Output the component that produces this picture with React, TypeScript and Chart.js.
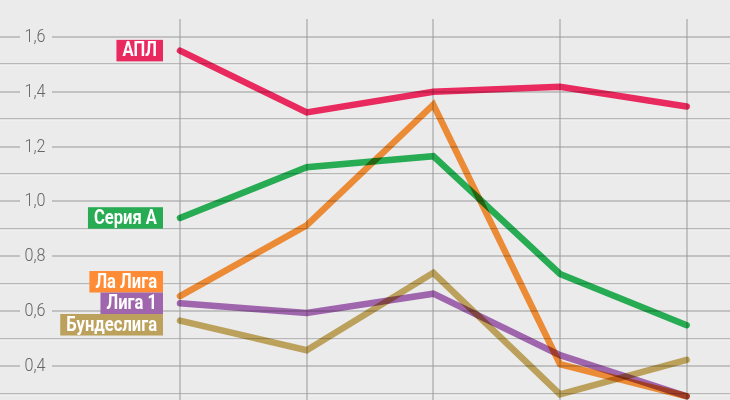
import React, { useEffect, useRef } from "react";
import { Chart, registerables } from "chart.js";

Chart.register(...registerables);

const categories = ["1", "2", "3", "4", "5"];
const leagueNames = ["АПЛ", "Серия А", "Ла Лига", "Лига 1", "Бундеслига"];
const aplValues = [1.55, 1.325, 1.4, 1.418, 1.346];
const serieAValues = [0.94, 1.125, 1.165, 0.736, 0.549];
const laLigaValues = [0.655, 0.913, 1.353, 0.407, 0.29];
const ligue1Values = [0.629, 0.594, 0.664, 0.44, 0.29];
const bundesligaValues = [0.566, 0.458, 0.74, 0.297, 0.423];
const leagueColors = ["#ea2a5e", "#27ab53", "#ff8b35", "#a066ad", "#bba15c"];
const lineColors = ["#fd2d66", "#2aba5a", "#ff973a", "#ae6fbc", "#cbaf64"];
const tickValues = [0.4, 0.6, 0.8, 1.0, 1.2, 1.4, 1.6];
const tickLabels = ["0,4", "0,6", "0,8", "1,0", "1,2", "1,4", "1,6"];
const minorValues = [0.3, 0.5, 0.7, 0.9, 1.1, 1.3, 1.5];

const BG = "#ebebeb";
const SQUEEZE = 0.85;

const gridPlugin = {
  id: "bgGrid",
  beforeDraw(chart: any) {
    const { ctx, chartArea, scales } = chart;
    const xs = scales.x;
    const ys = scales.y;
    ctx.save();
    ctx.fillStyle = BG;
    ctx.fillRect(0, 0, chart.width, chart.height);
    minorValues.forEach((v) => {
      const y = Math.round(ys.getPixelForValue(v));
      ctx.fillStyle = "#b8b8b8";
      ctx.fillRect(chartArea.left, y - 1, chartArea.right - chartArea.left, 1.5);
      ctx.fillStyle = "#f6f6f6";
      ctx.fillRect(chartArea.left, y + 0.5, chartArea.right - chartArea.left, 1);
    });
    ctx.fillStyle = "#9a9a9a";
    categories.forEach((_, i) => {
      const x = Math.round(xs.getPixelForValue(i));
      ctx.fillRect(x - 0.5, chartArea.top + 19, 1, chartArea.bottom - chartArea.top - 19);
    });
    tickValues.forEach((v, i) => {
      const y = Math.round(ys.getPixelForValue(v));
      ctx.fillStyle = "#9a9a9a";
      ctx.fillRect(chartArea.left, y - 0.5, 20, 1);
      ctx.fillRect(chartArea.left + 52, y - 0.5, chartArea.right - chartArea.left - 52, 1);
      ctx.save();
      ctx.translate(chartArea.left + 35, y + 0.5);
      ctx.scale(SQUEEZE, 1);
      ctx.font = "300 19px Roboto, sans-serif";
      ctx.textAlign = "center";
      ctx.textBaseline = "middle";
      ctx.fillStyle = "#666666";
      ctx.fillText(tickLabels[i], 0, 0);
      ctx.restore();
    });
    ctx.restore();
  },
  beforeDatasetsDraw(chart: any) {
    chart.ctx.save();
    chart.ctx.globalCompositeOperation = "multiply";
  },
  afterDatasetsDraw(chart: any) {
    const { ctx, scales } = chart;
    ctx.restore();
    const xs = scales.x;
    const ys = scales.y;
    const h = 21.5;
    const items = chart.data.datasets.map((ds: any, i: number) => ({
      text: ds.label,
      color: leagueColors[i],
      y: ys.getPixelForValue(ds.data[0].y),
    }));
    items.sort((a: any, b: any) => a.y - b.y);
    const groups: any[][] = [];
    items.forEach((it: any) => {
      const g = groups[groups.length - 1];
      if (g && it.y - g[g.length - 1].y < h) g.push(it);
      else groups.push([it]);
    });
    groups.forEach((g) => {
      const n = g.length;
      const mid = (n - 1) / 2;
      const center =
        n % 2 === 1 ? g[mid].y : (g[Math.floor(mid)].y + g[Math.ceil(mid)].y) / 2;
      g.forEach((it, k) => {
        it.py = center + (k - mid) * h;
      });
    });
    const right = xs.getPixelForValue(0) - 17;
    ctx.save();
    ctx.font = "bold 19.5px Roboto, sans-serif";
    items.forEach((it: any) => {
      const tw = ctx.measureText(it.text).width * SQUEEZE;
      const w = tw + 12;
      ctx.fillStyle = it.color;
      ctx.fillRect(right - w, it.py - h / 2, w, h);
      ctx.save();
      ctx.translate(right - 6, it.py + 1);
      ctx.scale(SQUEEZE, 1);
      ctx.textAlign = "right";
      ctx.textBaseline = "middle";
      ctx.fillStyle = "#ffffff";
      ctx.fillText(it.text, 0, 0);
      ctx.restore();
    });
    ctx.restore();
  },
};

export default function App() {
  const ref = useRef<HTMLCanvasElement | null>(null);
  useEffect(() => {
    document.body.style.margin = "0";
    const seriesList = [aplValues, serieAValues, laLigaValues, ligue1Values, bundesligaValues];
    const chart = new Chart(ref.current as HTMLCanvasElement, {
      type: "line",
      data: {
        datasets: seriesList.map((vals, i) => ({
          label: leagueNames[i],
          data: vals.map((v, j) => ({ x: j, y: v })),
          borderColor: lineColors[i],
          backgroundColor: lineColors[i],
          borderWidth: 6.5,
          borderCapStyle: "round",
          borderJoinStyle: "miter",
          pointRadius: 0,
          tension: 0,
          fill: false,
        })),
      } as any,
      options: {
        animation: false,
        responsive: true,
        maintainAspectRatio: false,
        layout: { padding: 0 },
        plugins: { legend: { display: false }, tooltip: { enabled: false } },
        scales: {
          x: { type: "linear", display: false, min: -1.421, max: 4.342 },
          y: { type: "linear", display: false, min: 0.2764, max: 1.7345 },
        },
      } as any,
      plugins: [gridPlugin],
    });
    return () => chart.destroy();
  }, []);
  return (
    <div style={{ position: "absolute", left: 0, top: 0, width: 730, height: 400, background: BG }}>
      <canvas ref={ref} />
    </div>
  );
}
